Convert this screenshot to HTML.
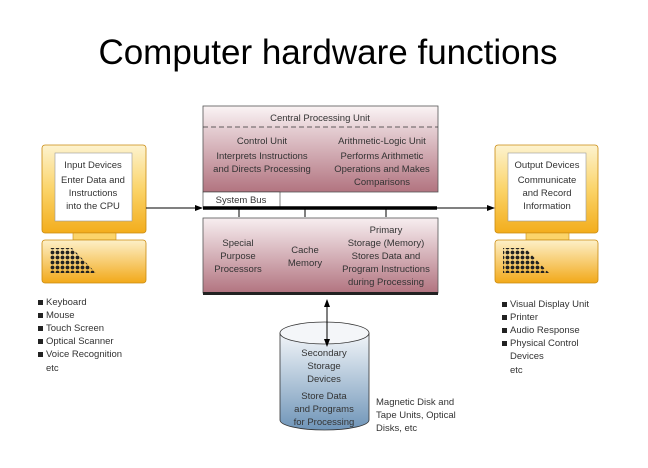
<!DOCTYPE html>
<html><head><meta charset="utf-8"><style>
html,body{margin:0;padding:0;background:#fff;}
svg{display:block;font-family:"Liberation Sans",sans-serif;}
</style></head><body>
<svg width="648" height="468" viewBox="0 0 648 468" xmlns="http://www.w3.org/2000/svg">
<defs>
<linearGradient id="mon" x1="0" y1="0" x2="0" y2="1"><stop offset="0" stop-color="#fdf3cf"/><stop offset="0.5" stop-color="#fbd46a"/><stop offset="1" stop-color="#f3ad1c"/></linearGradient>
<linearGradient id="kb" x1="0" y1="0" x2="0" y2="1"><stop offset="0" stop-color="#fdf0c8"/><stop offset="1" stop-color="#f2a91a"/></linearGradient>
<linearGradient id="cpu" x1="0" y1="0" x2="0" y2="1"><stop offset="0" stop-color="#f7eef0"/><stop offset="1" stop-color="#b27480"/></linearGradient>
<linearGradient id="cpuTop" x1="0" y1="0" x2="0" y2="1"><stop offset="0" stop-color="#faf3f4"/><stop offset="1" stop-color="#e8d3d7"/></linearGradient>
<linearGradient id="cyl" x1="0" y1="0" x2="0" y2="1"><stop offset="0" stop-color="#f2f5f9"/><stop offset="1" stop-color="#6f95b8"/></linearGradient>
<pattern id="dots" x="0" y="0" width="5" height="5" patternUnits="userSpaceOnUse"><circle cx="2.5" cy="2.5" r="1.9" fill="#222"/></pattern>
<marker id="ah" markerWidth="8" markerHeight="8" refX="7" refY="4" orient="auto"><path d="M0,1 L8,4 L0,7 z" fill="#000"/></marker>
<marker id="ahs" markerWidth="8" markerHeight="8" refX="1" refY="4" orient="auto"><path d="M8,1 L0,4 L8,7 z" fill="#000"/></marker>
</defs>
<text x="328" y="64" font-size="35" text-anchor="middle" fill="#000">Computer hardware functions</text>

<!-- left monitor -->
<rect x="42" y="145" width="104" height="88" rx="3" fill="url(#mon)" stroke="#c98a10" stroke-width="0.8"/>
<rect x="55" y="153" width="77" height="68" fill="#fff" stroke="#999" stroke-width="0.6"/>
<rect x="73" y="233" width="43" height="7" fill="#fbd46a" stroke="#c98a10" stroke-width="0.6"/>
<rect x="42" y="240" width="104" height="43" rx="3" fill="url(#kb)" stroke="#c98a10" stroke-width="0.8"/>
<path d="M50,248 L72,248 L96,273 L50,273 z" fill="url(#dots)"/>
<g font-size="9.5" text-anchor="middle" fill="#333">
<text x="93" y="168">Input Devices</text><text x="93" y="183">Enter Data and</text><text x="93" y="196">Instructions</text><text x="93" y="209">into the CPU</text>
</g>
<g font-size="9.5" fill="#333">
<rect x="38" y="300" width="5" height="5" fill="#222"/><text x="46" y="305">Keyboard</text>
<rect x="38" y="313" width="5" height="5" fill="#222"/><text x="46" y="318">Mouse</text>
<rect x="38" y="326" width="5" height="5" fill="#222"/><text x="46" y="331">Touch Screen</text>
<rect x="38" y="339" width="5" height="5" fill="#222"/><text x="46" y="344">Optical Scanner</text>
<rect x="38" y="352" width="5" height="5" fill="#222"/><text x="46" y="357">Voice Recognition</text>
<text x="46" y="371">etc</text>
</g>

<!-- right monitor -->
<rect x="495" y="145" width="103" height="88" rx="3" fill="url(#mon)" stroke="#c98a10" stroke-width="0.8"/>
<rect x="508" y="153" width="78" height="68" fill="#fff" stroke="#999" stroke-width="0.6"/>
<rect x="526" y="233" width="43" height="7" fill="#fbd46a" stroke="#c98a10" stroke-width="0.6"/>
<rect x="495" y="240" width="103" height="43" rx="3" fill="url(#kb)" stroke="#c98a10" stroke-width="0.8"/>
<path d="M503,248 L525,248 L549,273 L503,273 z" fill="url(#dots)"/>
<g font-size="9.5" text-anchor="middle" fill="#333">
<text x="547" y="168">Output Devices</text><text x="547" y="183">Communicate</text><text x="547" y="196">and Record</text><text x="547" y="209">Information</text>
</g>
<g font-size="9.5" fill="#333">
<rect x="502" y="302" width="5" height="5" fill="#222"/><text x="510" y="307">Visual Display Unit</text>
<rect x="502" y="315" width="5" height="5" fill="#222"/><text x="510" y="320">Printer</text>
<rect x="502" y="328" width="5" height="5" fill="#222"/><text x="510" y="333">Audio Response</text>
<rect x="502" y="341" width="5" height="5" fill="#222"/><text x="510" y="346">Physical Control</text>
<text x="510" y="359">Devices</text>
<text x="510" y="373">etc</text>
</g>

<!-- CPU -->
<rect x="203" y="106" width="235" height="86" fill="url(#cpu)" stroke="#555" stroke-width="0.8"/>
<rect x="203.5" y="106.5" width="234" height="21" fill="url(#cpuTop)"/>
<line x1="203" y1="127" x2="438" y2="127" stroke="#333" stroke-width="0.8" stroke-dasharray="5,3"/>
<g font-size="9.5" text-anchor="middle" fill="#333">
<text x="320" y="121">Central Processing Unit</text>
<text x="262" y="144">Control Unit</text>
<text x="262" y="159">Interprets Instructions</text>
<text x="262" y="172">and Directs Processing</text>
<text x="382" y="144">Arithmetic-Logic Unit</text>
<text x="382" y="159">Performs Arithmetic</text>
<text x="382" y="172">Operations and Makes</text>
<text x="382" y="185">Comparisons</text>
</g>
<rect x="203" y="192" width="77" height="15" fill="#fff" stroke="#333" stroke-width="0.6"/>
<text x="241" y="203" font-size="9.5" text-anchor="middle" fill="#333">System Bus</text>
<line x1="146" y1="208" x2="202" y2="208" stroke="#000" stroke-width="1" marker-end="url(#ah)"/>
<line x1="436" y1="208" x2="494" y2="208" stroke="#000" stroke-width="1" marker-end="url(#ah)"/>
<line x1="203" y1="208" x2="437" y2="208" stroke="#000" stroke-width="3.5"/>
<g stroke="#000" stroke-width="1"><line x1="239" y1="208" x2="239" y2="217"/><line x1="305" y1="208" x2="305" y2="217"/><line x1="386" y1="208" x2="386" y2="217"/></g>
<rect x="203" y="218" width="235" height="75" fill="url(#cpu)" stroke="#555" stroke-width="0.8"/>
<rect x="203" y="292" width="235" height="3" fill="#222"/>
<g font-size="9.5" text-anchor="middle" fill="#333">
<text x="238" y="246">Special</text><text x="238" y="259">Purpose</text><text x="238" y="272">Processors</text>
<text x="305" y="253">Cache</text><text x="305" y="266">Memory</text>
<text x="386" y="233">Primary</text><text x="386" y="246">Storage (Memory)</text><text x="386" y="259">Stores Data and</text><text x="386" y="272">Program Instructions</text><text x="386" y="285">during Processing</text>
</g>

<!-- cylinder -->
<path d="M280,333 L280,420 A44.5,10 0 0 0 369,420 L369,333" fill="url(#cyl)" stroke="#333" stroke-width="0.8"/>
<ellipse cx="324.5" cy="333" rx="44.5" ry="11" fill="#f4f6f9" stroke="#333" stroke-width="0.8"/>
<line x1="327" y1="300" x2="327" y2="346" stroke="#000" stroke-width="1" marker-end="url(#ah)" marker-start="url(#ahs)"/>
<g font-size="9.5" text-anchor="middle" fill="#333">
<text x="324" y="356">Secondary</text><text x="324" y="369">Storage</text><text x="324" y="382">Devices</text>
<text x="324" y="399">Store Data</text><text x="324" y="412">and Programs</text><text x="324" y="425">for Processing</text>
</g>
<g font-size="9.5" fill="#333">
<text x="376" y="405">Magnetic Disk and</text><text x="376" y="418">Tape Units, Optical</text><text x="376" y="431">Disks, etc</text>
</g>
</svg>
</body></html>
